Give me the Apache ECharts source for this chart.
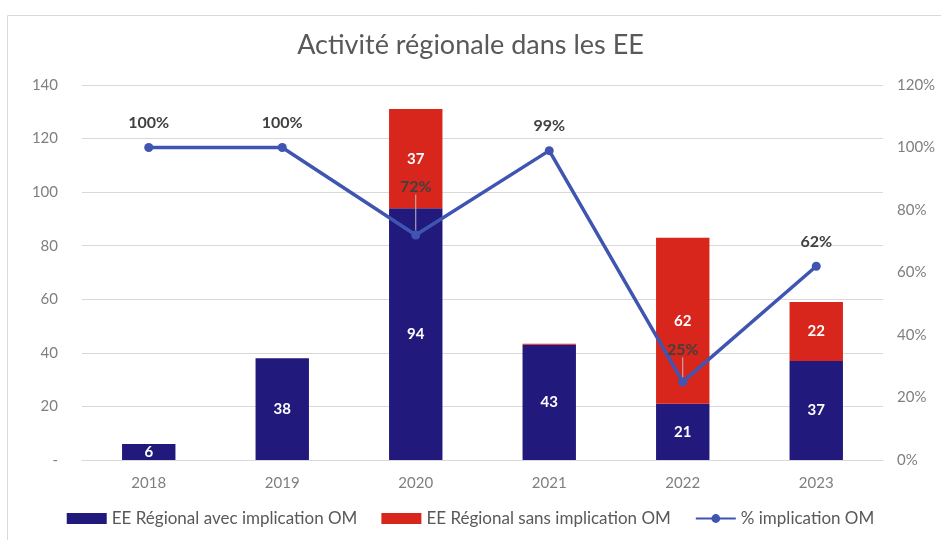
<!DOCTYPE html>
<html>
<head>
<meta charset="utf-8">
<script src="https://cdn.jsdelivr.net/npm/echarts@6/dist/echarts.min.js"></script>
<style>
  html, body { margin: 0; padding: 0; background: #fff; }
  #chart { width: 941px; height: 540px; }
</style>
</head>
<body>
<div id="chart"></div>
<script>
const years = ['2018', '2019', '2020', '2021', '2022', '2023']
const avecOM = [6, 38, 94, 43, 21, 37]
const sansOM = [0, 0, 37, 0.4, 62, 22]
const pctOM = [100, 100, 72, 99, 25, 62]
// points whose % label sits higher with a small leader line
const movedLabels = { 2: -24, 4: -8 }

const font = 'Lato, "Open Sans", sans-serif'
const myChart = echarts.init(document.getElementById('chart'))

const barLabel = {
  show: true,
  position: 'inside',
  color: '#fff',
  fontWeight: 'bold',
  fontSize: 15,
  fontFamily: font,
  formatter: p => (p.value >= 1 ? p.value : '')
}

const option = {
  animation: false,
  textStyle: { fontFamily: font },
  graphic: [{
    type: 'rect',
    left: 5, top: 13,
    shape: { width: 960, height: 560 },
    style: { fill: 'none', stroke: '#d9d9d9', lineWidth: 1 },
    silent: true
  }],
  title: {
    text: 'Activité régionale dans les EE',
    left: 'center',
    top: 27,
    textStyle: { fontSize: 27, fontWeight: 'normal', color: '#595959', fontFamily: font }
  },
  grid: { left: 82, right: 58, top: 85, bottom: 80 },
  legend: {
    bottom: 8,
    left: 'center',
    itemWidth: 40,
    itemHeight: 11,
    itemGap: 24,
    textStyle: { fontSize: 17, color: '#595959', fontFamily: font },
    data: [
      { name: 'EE Régional avec implication OM', icon: 'rect' },
      { name: 'EE Régional sans implication OM', icon: 'rect' },
      { name: '% implication OM' }
    ]
  },
  xAxis: {
    type: 'category',
    data: years,
    axisTick: { show: false },
    axisLine: { lineStyle: { color: '#d9d9d9' } },
    axisLabel: { color: '#7f7f7f', fontSize: 15, margin: 16 }
  },
  yAxis: [{
    type: 'value',
    min: 0, max: 140, interval: 20,
    axisLabel: {
      color: '#7f7f7f', fontSize: 15, margin: 24,
      formatter: v => (v === 0 ? '-' : v)
    },
    splitLine: { lineStyle: { color: '#d9d9d9' } }
  }, {
    type: 'value',
    min: 0, max: 120, interval: 20,
    axisLabel: { color: '#7f7f7f', fontSize: 15, margin: 14, formatter: '{value}%' },
    splitLine: { show: false }
  }],
  series: [{
    name: 'EE Régional avec implication OM',
    type: 'bar',
    stack: 'ee',
    barWidth: '40%',
    itemStyle: { color: '#211a7c' },
    label: barLabel,
    data: avecOM
  }, {
    name: 'EE Régional sans implication OM',
    type: 'bar',
    stack: 'ee',
    itemStyle: { color: '#d9261c' },
    label: barLabel,
    data: sansOM
  }, {
    name: '% implication OM',
    type: 'line',
    yAxisIndex: 1,
    symbol: 'circle',
    symbolSize: 9,
    lineStyle: { color: '#3f55b1', width: 3.5 },
    itemStyle: { color: '#3f55b1' },
    z: 5,
    label: {
      show: true,
      position: 'top',
      distance: 12,
      color: '#404040',
      fontWeight: 'bold',
      fontSize: 16,
      fontFamily: font,
      formatter: '{c}%'
    },
    labelLine: { show: false, lineStyle: { color: '#bfbfbf', width: 1 } },
    labelLayout: p => (movedLabels[p.dataIndex] ? { dy: movedLabels[p.dataIndex] } : {}),
    data: pctOM.map((v, i) => (movedLabels[i]
      ? { value: v, labelLine: { show: true, lineStyle: { color: '#bfbfbf', width: 1 } } }
      : v))
  }]
}

myChart.setOption(option)
</script>
</body>
</html>
